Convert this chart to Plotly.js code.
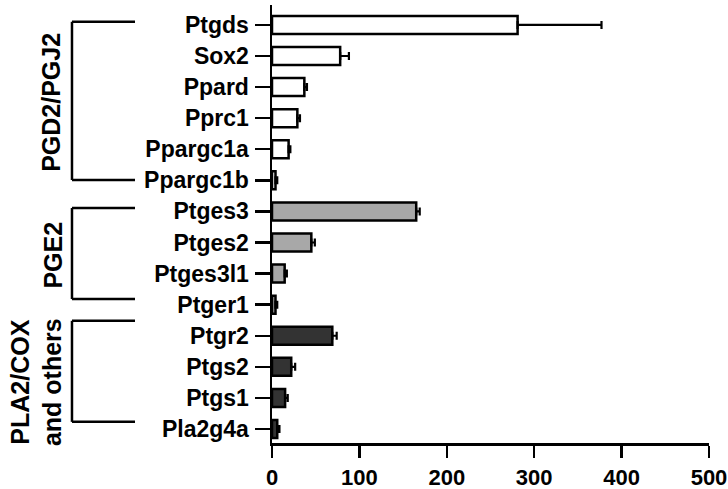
<!DOCTYPE html>
<html>
<head>
<meta charset="utf-8">
<script src="https://cdn.plot.ly/plotly-3.0.1.min.js"></script>
<style>html,body{margin:0;padding:0;background:#fff}#chart{width:728px;height:489px}</style>
</head>
<body>
<div id="chart"></div>
<script>
const genes = ['Ptgds','Sox2','Ppard','Pprc1','Ppargc1a','Ppargc1b','Ptges3','Ptges2','Ptges3l1','Ptger1','Ptgr2','Ptgs2','Ptgs1','Pla2g4a'];
const values = [281, 78, 37, 29, 19, 4, 165, 45, 14.5, 4, 69, 22, 15, 6];
const errors = [96, 10, 3, 3, 2, 2, 4, 4, 2.5, 2, 5, 4.5, 3, 2.5];
const groups = ['PGD2/PGJ2','PGD2/PGJ2','PGD2/PGJ2','PGD2/PGJ2','PGD2/PGJ2','PGD2/PGJ2','PGE2','PGE2','PGE2','PGE2','PLA2','PLA2','PLA2','PLA2'];
const groupNames = ['PGD2/PGJ2','PGE2','PLA2'];
const groupLabels = ['PGD2/PGJ2','PGE2','PLA2/COX<br>and others'];
const xTicks = [0, 100, 200, 300, 400, 500];

const groupColors = {'PGD2/PGJ2':'#ffffff','PGE2':'#a8a8a8','PLA2':'#333333'};
const font = {family:'Liberation Sans, Arial, sans-serif', color:'#000', weight:'bold'};

const trace = {
  type:'bar', orientation:'h',
  y: genes, x: values,
  width: 0.58,
  marker:{color: groups.map(g=>groupColors[g]), line:{color:'#000', width:2.5}},
  error_x:{type:'data', symmetric:false, array: errors, arrayminus: errors.map(()=>0), color:'#000', thickness:2.2, width:4},
  hoverinfo:'none'
};

const bracketSpan = {'PGD2/PGJ2':[-0.1,4.99],'PGE2':[5.89,8.82],'PLA2':[9.52,12.77]};
const labelY = {'PGD2/PGJ2':2.48,'PGE2':7.4,'PLA2':11.49};
const labelX = {'PGD2/PGJ2':-0.506,'PGE2':-0.502,'PLA2':-0.54};
const bx = -0.4577, bx2 = -0.3135;
const shapes = [];
const annotations = [];
groupNames.forEach((g,i)=>{
  const [a,b] = bracketSpan[g];
  const line = {color:'#000', width:2.5};
  shapes.push({type:'line', xref:'paper', yref:'y', x0:bx, x1:bx, y0:a, y1:b, line});
  shapes.push({type:'line', xref:'paper', yref:'y', x0:bx, x1:bx2, y0:a, y1:a, line});
  shapes.push({type:'line', xref:'paper', yref:'y', x0:bx, x1:bx2, y0:b, y1:b, line});
  annotations.push({xref:'paper', yref:'y', x:labelX[g], y:labelY[g], text:groupLabels[i], textangle:-90, showarrow:false,
    xanchor:'center', yanchor:'middle', font:Object.assign({}, font, {size:25})});
});

const layout = {
  width:728, height:489,
  margin:{l:272, r:19, t:5, b:46},
  paper_bgcolor:'#fff', plot_bgcolor:'#fff',
  showlegend:false,
  xaxis:{range:[0,500], tickvals:xTicks, ticktext:xTicks.map(String), showline:true, linecolor:'#000', linewidth:2.5,
    ticks:'outside', ticklen:12, tickwidth:2.5, tickcolor:'#000', showgrid:false, zeroline:false, ticklabelstandoff:1,
    tickfont:Object.assign({}, font, {size:22})},
  yaxis:{type:'category', categoryorder:'array', categoryarray:genes, range:[13.45,-0.64], showline:true, linecolor:'#000', linewidth:2.5,
    ticks:'outside', ticklen:15, tickwidth:2.5, tickcolor:'#000', showgrid:false, zeroline:false, ticklabelstandoff:1,
    tickfont:Object.assign({}, font, {size:23})},
  shapes, annotations
};
Plotly.newPlot('chart',[trace],layout,{displayModeBar:false, staticPlot:true});
</script>
</body>
</html>
